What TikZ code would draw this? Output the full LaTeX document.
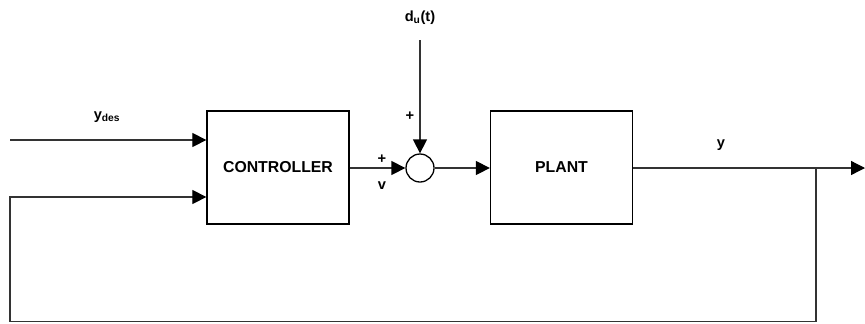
\documentclass[tikz,border=0pt]{standalone}
\usepackage{fontspec}
\setmainfont{Liberation Sans}
\usetikzlibrary{arrows.meta}
\definecolor{strich}{HTML}{333333}
\tikzset{
  sig/.style={-{Triangle[length=4.2mm,width=4.2mm,color=black]},strich,line width=1.1pt},
  block/.style={draw=black,line width=1.1pt,minimum width=4.26cm,minimum height=3.39cm,
    font=\fontsize{13.5}{16}\selectfont\bfseries},
  summe/.style={circle,draw=black,line width=1.1pt,minimum size=0.84cm,inner sep=0pt},
  lbl/.style={font=\fontsize{12.5}{14}\selectfont\bfseries,inner sep=1pt},
}
\begin{document}
\begin{tikzpicture}[x=0.03cm,y=-0.03cm]
  \useasboundingbox (0,0) rectangle (865,323);
  % ===== Bloecke =====
  \node[block] (ctrl) at (278,167.5) {CONTROLLER};
  \node[block] (plant) at (561.5,167.5) {PLANT};
  \node[summe] (sum) at (420,168) {};
  % ===== Hilfspunkte =====
  \coordinate (in) at (10,140);
  \coordinate (dtop) at (420,40);
  \coordinate (out) at (865,168);
  \coordinate (tap) at (816,168);
  \coordinate (br) at (816,321.5);
  \coordinate (bl) at (10,321.5);
  \coordinate (fb) at (10,197);
  % ===== Signale =====
  \draw[sig] (in) -- (ctrl.west |- in);
  \draw[sig] (ctrl.east |- sum) -- (sum.west);
  \draw[sig] (dtop) -- (sum.north);
  \draw[sig] (sum.east) -- (plant.west |- sum);
  \draw[sig] (plant.east |- out) -- (out);
  \draw[sig] (tap) -- (br) -- (bl) -- (fb) -- (ctrl.west |- fb);
  % ===== Beschriftungen =====
  \node[lbl] (ydes) at (107,117) {y\textsubscript{des}};
  \node[lbl] (du) at (420,18) {d\textsubscript{u}(t)};
  \node[lbl] (pd) at (410,116) {+};
  \node[lbl] (pv) at (382,159) {+};
  \node[lbl] (v) at (382,186) {v};
  \node[lbl] (y) at (721,145) {y};
\end{tikzpicture}
\end{document}
